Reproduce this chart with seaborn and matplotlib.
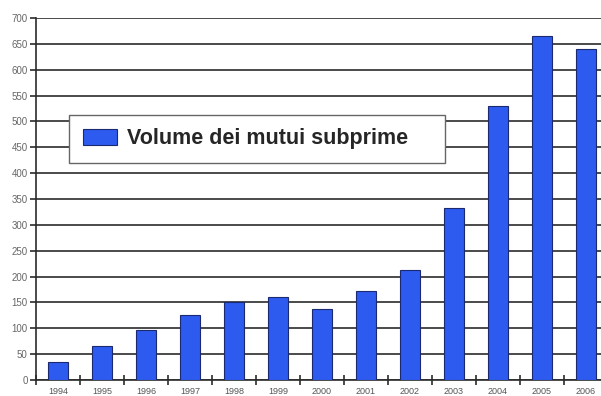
import matplotlib
matplotlib.use("Agg")
import matplotlib.pyplot as plt
import seaborn as sns
import pandas as pd
import numpy as np

# Subprime mortgage volume by year
years = ["1994", "1995", "1996", "1997", "1998", "1999", "2000",
         "2001", "2002", "2003", "2004", "2005", "2006"]
volume = [35, 65, 97, 125, 150, 160, 137, 172, 212, 333, 530, 665, 640]
series_label = "Volume dei mutui subprime"
y_ticks = list(range(0, 701, 50))

df = pd.DataFrame({"anno": years, "volume": volume})

sns.set_theme(style="white")
plt.rcParams["font.family"] = ["Liberation Sans", "DejaVu Sans"]

fig = plt.figure(figsize=(6.01, 3.96), dpi=100)
ax = fig.add_axes([36 / 601, 16 / 396, 572 / 601, 362 / 396])

sns.barplot(data=df, x="anno", y="volume", ax=ax, color="#2E5BEF",
            saturation=1, width=0.44, edgecolor="#1B2A70", linewidth=0.8,
            label=series_label + "    ", zorder=3)

# horizontal grid every 50
ax.set_ylim(0, 700)
ax.set_yticks(y_ticks)
ax.yaxis.grid(True, color="#2b2b2b", linewidth=1.2, zorder=0)
ax.set_axisbelow(True)
ax.set_xlim(-0.5, len(years) - 0.5)

# category ticks between bars, labels centred under bars
ax.set_xticks(np.arange(len(years)))
ax.set_xticklabels(years)
ax.set_xticks(np.arange(-0.5, len(years)), minor=True)
ax.tick_params(axis="x", which="major", length=0, labelsize=6.5,
               labelcolor="#555555", pad=5)
ax.tick_params(axis="x", which="minor", length=7, width=1.2,
               direction="inout", color="#2b2b2b", bottom=True)
ax.tick_params(axis="y", which="major", length=4, width=1.2,
               direction="out", color="#2b2b2b", left=True,
               labelsize=7, labelcolor="#666666", pad=2)

ax.set_xlabel("")
ax.set_ylabel("")
for side in ["top", "right"]:
    ax.spines[side].set_visible(False)
ax.spines["left"].set_color("#2b2b2b")
ax.spines["left"].set_linewidth(1.2)
ax.spines["bottom"].set_color("#2b2b2b")
ax.spines["bottom"].set_linewidth(1.2)

leg = ax.legend(loc="upper left", bbox_to_anchor=(0.058, 0.732),
                borderaxespad=0, fancybox=False, frameon=True,
                prop={"weight": "bold", "size": 15.5},
                handlelength=1.6, handleheight=0.8, handletextpad=0.45,
                borderpad=0.62)
leg.get_frame().set_edgecolor("#666666")
leg.get_frame().set_linewidth(1.0)
leg.get_frame().set_alpha(1)
leg.set_zorder(5)
for h in leg.legend_handles:
    h.set_edgecolor("#1B2A70")

fig.savefig("out.png", dpi=100)
